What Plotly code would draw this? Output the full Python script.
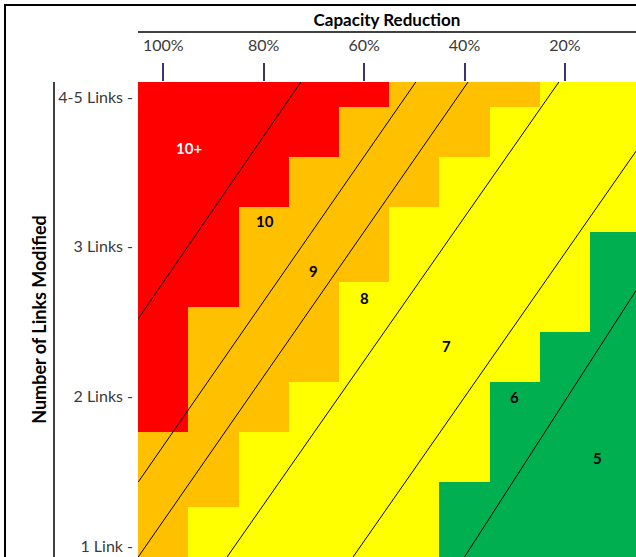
import plotly.graph_objects as go
import numpy as np

# ---------------- data ----------------
capacity_reduction = [100, 90, 80, 70, 60, 50, 40, 30, 20, 10]   # % (column centres)
x_tick_values = [100, 80, 60, 40, 20]
x_tick_labels = ["100%", "80%", "60%", "40%", "20%"]
y_tick_values = [1, 2, 3, 4]
y_tick_labels = ["1 Link -", "2 Links -", "3 Links -", "4-5 Links -"]

axis_links_min = 0.93
axis_links_max = 4.10

# upper edge of each zone per column (number-of-links scale)
green_top = [0.93, 0.93, 0.93, 0.93, 0.93, 0.93, 1.433, 2.10, 2.433, 3.10]
yellow_top = [0.93, 1.267, 1.767, 2.10, 2.767, 3.267, 3.60, 3.933, 4.10, 4.10]
orange_top = [1.767, 2.60, 3.267, 3.60, 3.933, 4.10, 4.10, 4.10, 4.10, 4.10]
red_top = [4.10, 4.10, 4.10, 4.10, 4.10, 4.10, 4.10, 4.10, 4.10, 4.10]

# diagonal separation lines (capacity %, links) start -> end
line_x_start = [105.0, 105.0, 105.0, 87.3, 62.2, 40.0]
line_y_start = [2.52, 1.43, 0.93, 0.93, 0.93, 0.93]
line_x_end = [72.6, 49.7, 39.3, 21.2, 5.8, 5.8]
line_y_end = [4.10, 4.10, 4.10, 4.10, 3.64, 2.71]

# zone labels
zone_labels = ["10+", "10", "9", "8", "7", "6", "5"]
zone_label_pct = [94.8, 79.7, 70.0, 60.0, 43.5, 30.1, 13.6]
zone_label_links = [3.66, 3.17, 2.84, 2.66, 2.34, 2.00, 1.59]

# ---------------- figure ----------------
W, H = 636, 557
ML, MT = 138, 82
PW, PH = W - ML, H - MT

def px_x(px):
    return (px - ML) / PW

def px_y(py):
    return (H - py) / PH

zones = [
    ("green", np.array(green_top), "#00B050"),
    ("yellow", np.array(yellow_top) - np.array(green_top), "#FFFF00"),
    ("orange", np.array(orange_top) - np.array(yellow_top), "#FFC000"),
    ("red", np.array(red_top) - np.array(orange_top), "#FF0000"),
]

fig = go.Figure()
for name, heights, color in zones:
    fig.add_trace(go.Bar(
        x=capacity_reduction, y=heights, width=10, name=name,
        marker=dict(color=color, line=dict(width=0)),
        hoverinfo="skip", showlegend=False,
    ))

for x0, y0, x1, y1 in zip(line_x_start, line_y_start, line_x_end, line_y_end):
    fig.add_trace(go.Scatter(
        x=[x0, x1], y=[y0, y1], mode="lines",
        line=dict(color="#000000", width=1),
        hoverinfo="skip", showlegend=False,
    ))

for t, xv, yv in zip(zone_labels, zone_label_pct, zone_label_links):
    fig.add_annotation(
        x=xv, y=yv, text="<b>%s</b>" % t, showarrow=False,
        font=dict(family="Lato", size=15, color="#FFFFFF" if t == "10+" else "#000000"),
    )

# decorative frame lines
frame = dict(color="#000000", width=2)
fig.add_shape(type="line", xref="paper", yref="paper",
              x0=px_x(4), x1=px_x(640), y0=px_y(5), y1=px_y(5), line=frame)
fig.add_shape(type="line", xref="paper", yref="paper",
              x0=px_x(5), x1=px_x(5), y0=px_y(4), y1=px_y(560), line=frame)
fig.add_shape(type="line", xref="paper", yref="paper",
              x0=px_x(138), x1=px_x(640), y0=px_y(32), y1=px_y(32),
              line=dict(color="#000000", width=1.5))
fig.add_shape(type="line", xref="paper", yref="paper",
              x0=px_x(54), x1=px_x(54), y0=px_y(82), y1=px_y(560),
              line=dict(color="#000000", width=1.5))

fig.update_layout(
    width=W, height=H,
    margin=dict(l=ML, r=0, t=MT, b=0, pad=0),
    paper_bgcolor="#FFFFFF", plot_bgcolor="#FFFFFF",
    barmode="stack", bargap=0,
    font=dict(family="Lato", size=16, color="#3A3A3A"),
    xaxis=dict(
        side="top", range=[105.04, 5.84], tickmode="array",
        tickvals=x_tick_values, ticktext=x_tick_labels,
        ticks="outside", ticklen=18, tickwidth=1.5, tickcolor="#3C3470",
        ticklabelstandoff=6,
        showgrid=False, zeroline=False, showline=False,
        title=dict(text="<b>Capacity Reduction</b>", standoff=3,
                   font=dict(family="Lato", size=17, color="#000000")),
    ),
    yaxis=dict(
        range=[axis_links_min, axis_links_max], tickmode="array",
        tickvals=y_tick_values, ticktext=y_tick_labels,
        ticks="", showgrid=False, zeroline=False, showline=False,
        ticklabelstandoff=4,
        title=dict(text="<b>Number of Links Modified</b>", standoff=7,
                   font=dict(family="Lato", size=18, color="#000000")),
    ),
)

fig.write_html("out.html", config={"displayModeBar": False},
               post_script="document.body.style.margin='0';document.body.style.overflow='hidden';")
